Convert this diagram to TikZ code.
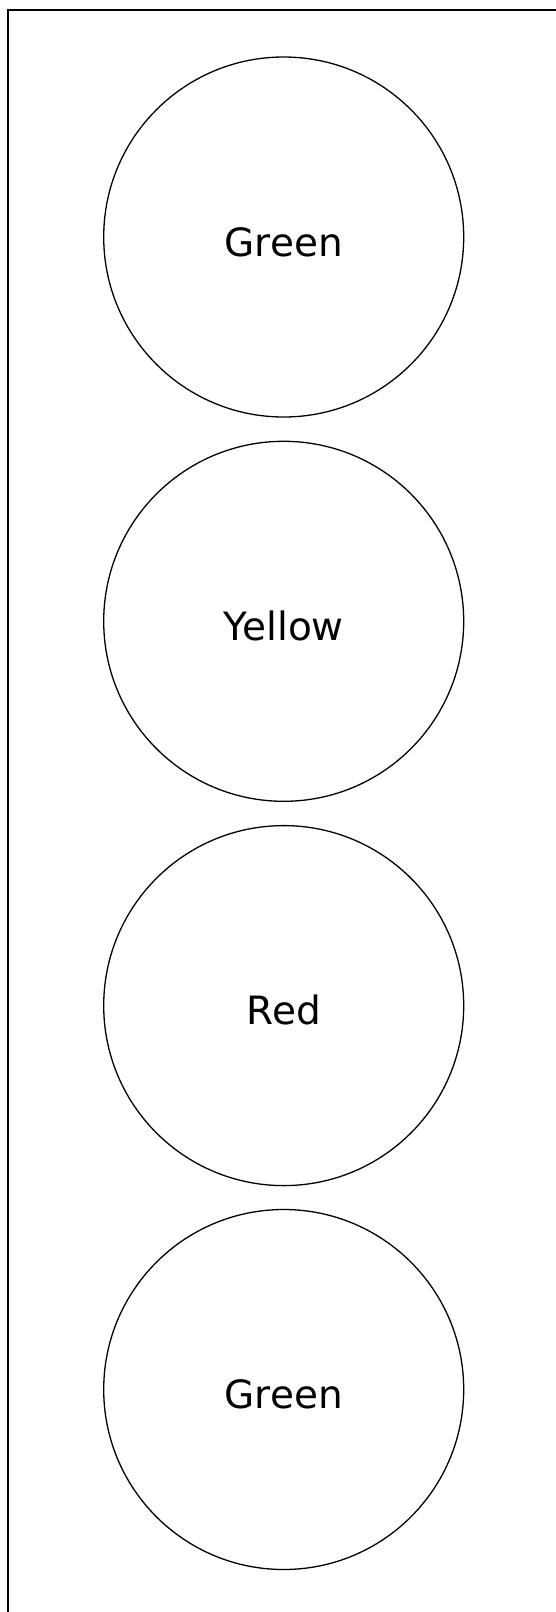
\documentclass[tikz,border=0pt]{standalone}
\usepackage{fontspec}
\setmainfont{DejaVu Sans}
\usepackage{tikz}

\begin{document}
\begin{tikzpicture}[x=1pt,y=1pt,
  lamp/.style={draw=black,line width=1.3pt,circle,minimum size=360pt,inner sep=0pt,font=\fontsize{39}{42}\selectfont,text=black,text height=38pt,text depth=0pt},
  frame/.style={draw=black,line width=2pt}]
  \useasboundingbox (0,0) rectangle (556,-1612);
  \draw[frame] (8,-1640) -- (8,-10) -- (580,-10);
  \node[lamp] (greenTop) at (283.7,-237) {Green};
  \node[lamp] (yellow) at (283.7,-621.3) {Yellow};
  \node[lamp] (red) at (283.7,-1005.6) {Red};
  \node[lamp] (greenBottom) at (283.7,-1389.5) {Green};
\end{tikzpicture}
\end{document}
